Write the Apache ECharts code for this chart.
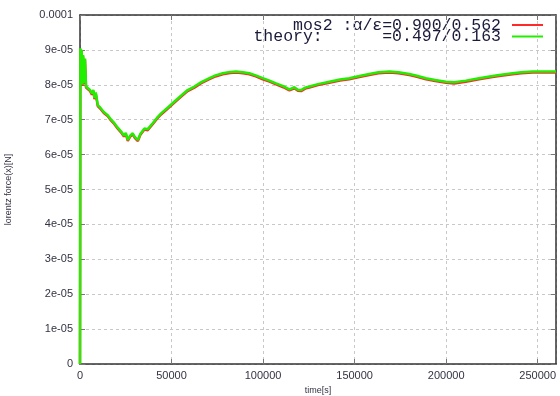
<!DOCTYPE html>
<html>
<head>
<meta charset="utf-8">
<script src="https://cdn.jsdelivr.net/npm/echarts@6/dist/echarts.min.js"></script>
<style>
  html, body { margin: 0; padding: 0; background: #fff; }
  #chart { width: 560px; height: 396px; }
</style>
</head>
<body>
<div id="chart"></div>
<script>
// Simulation time [s]
const timeSec = [
  0, 200, 600, 900, 1300, 1700, 2200, 2700, 3300, 4300,
  5500, 6500, 7300, 7900, 8600, 9700, 11000, 13000, 15200, 17000,
  18800, 20500, 22500, 24000, 25000, 26100, 27500, 28800, 30000, 31600,
  33000, 35200, 37000, 39700, 42000, 44300, 48000, 51600, 55000, 58800,
  62500, 66000, 70700, 74000, 78000, 82000, 85300, 89000, 92500, 96000,
  99800, 103500, 107100, 111000, 114400, 117100, 119000, 120800, 123000, 125300,
  130000, 136200, 142000, 147100, 152600, 158000, 163000, 169000, 174000, 179900,
  184000, 189000, 194000, 199900, 204400, 210800, 218000, 225300, 230000, 236300,
  241000, 247200, 253000, 260000
];

// Lorentz force (x) [N], theory
const forceTheory = [
  0, 9.05e-5, 8.10e-5, 9.00e-5, 8.00e-5, 8.85e-5, 8.05e-5, 8.75e-5, 7.95e-5, 8.00e-5,
  7.85e-5, 7.75e-5, 7.85e-5, 7.62e-5, 7.78e-5, 7.42e-5, 7.35e-5, 7.22e-5, 7.13e-5, 7.00e-5,
  6.90e-5, 6.78e-5, 6.66e-5, 6.55e-5, 6.62e-5, 6.42e-5, 6.55e-5, 6.61e-5, 6.50e-5, 6.42e-5,
  6.60e-5, 6.75e-5, 6.73e-5, 6.90e-5, 7.05e-5, 7.18e-5, 7.35e-5, 7.52e-5, 7.68e-5, 7.85e-5,
  7.95e-5, 8.07e-5, 8.19e-5, 8.27e-5, 8.33e-5, 8.37e-5, 8.38e-5, 8.36e-5, 8.33e-5, 8.27e-5,
  8.19e-5, 8.12e-5, 8.04e-5, 7.96e-5, 7.87e-5, 7.93e-5, 7.86e-5, 7.85e-5, 7.92e-5, 7.95e-5,
  8.02e-5, 8.09e-5, 8.15e-5, 8.19e-5, 8.25e-5, 8.31e-5, 8.36e-5, 8.38e-5, 8.36e-5, 8.31e-5,
  8.26e-5, 8.19e-5, 8.14e-5, 8.09e-5, 8.07e-5, 8.12e-5, 8.19e-5, 8.25e-5, 8.29e-5, 8.33e-5,
  8.36e-5, 8.38e-5, 8.38e-5, 8.38e-5
];

// Lorentz force (x) [N], mos2 run
const forceMos2 = [
  0, 9.02e-5, 8.07e-5, 8.97e-5, 7.97e-5, 8.82e-5, 8.02e-5, 8.72e-5, 7.92e-5, 7.97e-5,
  7.82e-5, 7.72e-5, 7.82e-5, 7.59e-5, 7.75e-5, 7.39e-5, 7.32e-5, 7.19e-5, 7.10e-5, 6.97e-5,
  6.87e-5, 6.75e-5, 6.63e-5, 6.52e-5, 6.59e-5, 6.39e-5, 6.52e-5, 6.58e-5, 6.47e-5, 6.39e-5,
  6.57e-5, 6.72e-5, 6.70e-5, 6.87e-5, 7.02e-5, 7.15e-5, 7.32e-5, 7.49e-5, 7.65e-5, 7.82e-5,
  7.92e-5, 8.04e-5, 8.16e-5, 8.24e-5, 8.30e-5, 8.34e-5, 8.35e-5, 8.33e-5, 8.30e-5, 8.24e-5,
  8.16e-5, 8.09e-5, 8.01e-5, 7.93e-5, 7.84e-5, 7.90e-5, 7.83e-5, 7.82e-5, 7.89e-5, 7.92e-5,
  7.99e-5, 8.06e-5, 8.12e-5, 8.16e-5, 8.22e-5, 8.28e-5, 8.33e-5, 8.35e-5, 8.33e-5, 8.28e-5,
  8.23e-5, 8.16e-5, 8.11e-5, 8.06e-5, 8.04e-5, 8.09e-5, 8.16e-5, 8.22e-5, 8.26e-5, 8.30e-5,
  8.33e-5, 8.35e-5, 8.35e-5, 8.35e-5
];

const yTickLabels = ['0', '1e-05', '2e-05', '3e-05', '4e-05', '5e-05', '6e-05', '7e-05', '8e-05', '9e-05', '0.0001'];
const xTickLabels = ['0', '50000', '100000', '150000', '200000', '250000'];

const keyLines = ['mos2 :\u03b1/\u03b5=0.900/0.562', 'theory:      =0.497/0.163'];
const seriesNames = ['mos2', 'theory'];
const seriesColors = ['#ff2a2a', '#22ee00'];

const pairs = (xs, ys) => xs.map((x, i) => [x, ys[i]]);

const chart = echarts.init(document.getElementById('chart'), null, { renderer: 'canvas' });

const tickColor = '#333';
const labelFont = { fontFamily: 'Liberation Sans', fontSize: 11, color: '#333344' };
const gridLine = { show: true, lineStyle: { color: '#c8c8c8', type: [3, 3], width: 1 } };

const option = {
  animation: false,
  backgroundColor: '#fff',
  grid: { left: 80, right: 4, top: 15, bottom: 32, containLabel: false, outerBoundsMode: 'none' },
  xAxis: [
    {
      type: 'value', min: 0, max: 260000, interval: 50000,
      position: 'bottom',
      name: 'time[s]', nameLocation: 'middle', nameGap: 22,
      nameTextStyle: { fontFamily: 'Liberation Sans', fontSize: 9, color: '#333344' },
      axisLine: { show: true, onZero: false, lineStyle: { color: tickColor, width: 1.5 } },
      axisTick: { show: true, inside: true, length: 5, lineStyle: { color: '#777' } },
      axisLabel: Object.assign({ margin: 6, showMaxLabel: false,
        formatter: v => xTickLabels[Math.round(v / 50000)] || '' }, labelFont),
      splitLine: gridLine
    },
    {
      type: 'value', min: 0, max: 260000, interval: 50000,
      position: 'top',
      axisLine: { show: true, onZero: false, lineStyle: { color: tickColor, width: 1.5 } },
      axisTick: { show: true, inside: true, length: 5, lineStyle: { color: '#777' } },
      axisLabel: { show: false },
      splitLine: { show: false }
    }
  ],
  yAxis: [
    {
      type: 'value', min: 0, max: 1e-4, interval: 1e-5,
      position: 'left',
      name: 'lorentz force(x)[N]', nameLocation: 'middle', nameGap: 67, nameRotate: 90,
      nameTextStyle: { fontFamily: 'Liberation Sans', fontSize: 9, color: '#333344' },
      axisLine: { show: true, onZero: false, lineStyle: { color: tickColor, width: 1.5 } },
      axisTick: { show: true, inside: true, length: 5, lineStyle: { color: '#777' } },
      axisLabel: Object.assign({ margin: 7,
        formatter: v => yTickLabels[Math.round(v / 1e-5)] || '' }, labelFont),
      splitLine: gridLine
    },
    {
      type: 'value', min: 0, max: 1e-4, interval: 1e-5,
      position: 'right',
      axisLine: { show: true, onZero: false, lineStyle: { color: tickColor, width: 1.5 } },
      axisTick: { show: true, inside: true, length: 5, lineStyle: { color: '#777' } },
      axisLabel: { show: false },
      splitLine: { show: false }
    }
  ],
  series: [
    {
      name: seriesNames[0], type: 'line', xAxisIndex: 0, yAxisIndex: 0,
      data: pairs(timeSec, forceMos2), showSymbol: false, symbol: 'none',
      lineStyle: { color: seriesColors[0], width: 2.5 }, z: 2
    },
    {
      name: seriesNames[1], type: 'line', xAxisIndex: 0, yAxisIndex: 0,
      data: pairs(timeSec, forceTheory), showSymbol: false, symbol: 'none',
      lineStyle: { color: seriesColors[1], width: 2.5 }, z: 3
    }
  ],
  graphic: [
    {
      type: 'text', right: 59, top: 17,
      style: { text: keyLines[0], font: '16.5px "Liberation Mono"', fill: '#1a1a3a', textAlign: 'right' }
    },
    {
      type: 'text', right: 59, top: 28,
      style: { text: keyLines[1], font: '16.5px "Liberation Mono"', fill: '#1a1a3a', textAlign: 'right' }
    },
    {
      type: 'line', shape: { x1: 512, y1: 25, x2: 543, y2: 25 },
      style: { stroke: seriesColors[0], lineWidth: 2 }
    },
    {
      type: 'line', shape: { x1: 512, y1: 36.5, x2: 543, y2: 36.5 },
      style: { stroke: seriesColors[1], lineWidth: 2 }
    }
  ]
};

chart.setOption(option);
</script>
</body>
</html>
